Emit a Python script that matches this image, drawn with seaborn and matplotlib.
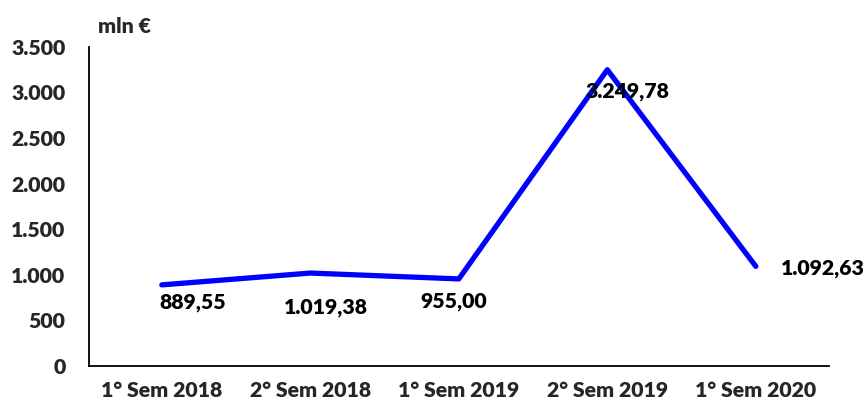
import pandas as pd
import seaborn as sns
import matplotlib.pyplot as plt
from matplotlib.ticker import FuncFormatter

# dati (mln €)
periodi = ['1° Sem 2018', '2° Sem 2018', '1° Sem 2019', '2° Sem 2019', '1° Sem 2020']
valori = [889.55, 1019.38, 955.00, 3249.78, 1092.63]
etichette = ['889,55', '1.019,38', '955,00', '3.249,78', '1.092,63']
# spostamento etichette in pixel rispetto al punto
offset_etichette = [(31, -18), (16, -34), (-5, -23), (20, -22), (67, -2)]

df = pd.DataFrame({'Periodo': periodi, 'Valore': valori})

sns.set_style('white')
plt.rcParams['font.family'] = ['Lato', 'DejaVu Sans']
plt.rcParams['font.weight'] = 'bold'
fs = 15.3

fig = plt.figure(figsize=(8.67, 4.08), dpi=100)
ax = fig.add_axes([0.1027, 0.103, 0.853, 0.782])

sns.lineplot(data=df, x='Periodo', y='Valore', ax=ax, color='#0000FF',
             linewidth=3.8, sort=False, solid_capstyle='round')

for i, (lab, off) in enumerate(zip(etichette, offset_etichette)):
    ax.annotate(lab, (i, valori[i]), xytext=off, textcoords='offset pixels',
                ha='center', va='center', fontsize=fs, fontweight='heavy',
                color='black')

ax.set_ylim(0, 3500)
ax.set_yticks(range(0, 3501, 500))
ax.yaxis.set_major_formatter(FuncFormatter(lambda v, p: f'{int(v):,}'.replace(',', '.')))
ax.set_xlim(-0.49, 4.49)
ax.set_xticks(range(len(periodi)))
ax.set_xticklabels(periodi)
ax.set_xticks([4.49], minor=True)

ax.tick_params(axis='y', length=0, pad=17, labelsize=fs)
ax.tick_params(axis='x', which='both', direction='in', length=4.5, width=1.2,
               pad=11, labelsize=fs, color='black')
for t in ax.get_xticklabels() + ax.get_yticklabels():
    t.set_fontweight('heavy')

for s in ['top', 'right']:
    ax.spines[s].set_visible(False)
for s in ['left', 'bottom']:
    ax.spines[s].set_color('black')
    ax.spines[s].set_linewidth(1.3)

ax.set_xlabel('')
ax.set_ylabel('')
fig.text(0.113, 0.935, 'mln €', fontsize=fs, fontweight='heavy', va='center')

plt.savefig('out.png', dpi=100)
